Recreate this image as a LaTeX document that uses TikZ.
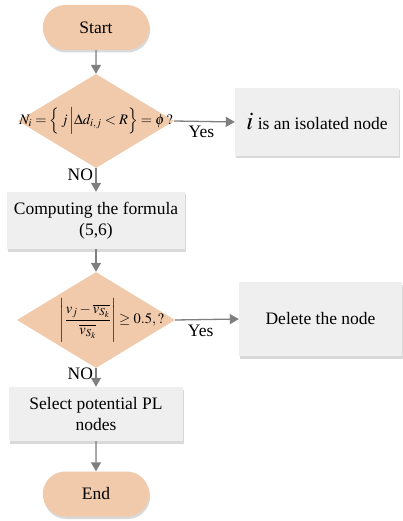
\documentclass[tikz,border=0pt]{standalone}
\usepackage{amsmath}
\usepackage{mathptmx}
\usepackage{fontspec}
\setmainfont{Liberation Serif}
\usetikzlibrary{arrows.meta,shapes.geometric,shapes.misc,shadows}
\definecolor{termfill}{HTML}{F0CAAA}
\definecolor{stepfill}{HTML}{EFEFEF}
\definecolor{linegray}{HTML}{7F7F7F}
\tikzset{
  term/.style={rounded rectangle, fill=termfill, minimum width=113pt, minimum height=45pt,
    drop shadow={shadow xshift=1pt, shadow yshift=-2.5pt, opacity=0.3}},
  stepbox/.style={rectangle, fill=stepfill, align=center, inner sep=0pt,
    drop shadow={shadow xshift=1pt, shadow yshift=-2.5pt, opacity=0.3}},
  decide/.style={diamond, fill=termfill, inner sep=0pt},
  flow/.style={draw=linegray, line width=1.3pt, -{Triangle[length=9pt,width=10pt]}, fill=linegray}
}
\begin{document}
\begin{tikzpicture}[x=1pt, y=-1pt, font=\fontsize{17.5}{21}\selectfont]
\useasboundingbox (0,0) rectangle (402,521);
\node[term] (start) at (96,27.5) {Start};
\node[decide, minimum width=156pt, minimum height=94pt,
  label={[font=\fontsize{14.5}{17}\selectfont]center:$N_i=\Big\{\,j\,\Big|\Delta d_{i,j}<R\Big\}=\phi\,?$}] (test1) at (96,121) {};
\node[stepbox, minimum width=164pt, minimum height=68pt] (isolated) at (317,122) {{\fontsize{25}{25}\selectfont$i$} is an isolated node};
\node[stepbox, minimum width=178pt, minimum height=57pt] (formula) at (96,220.5) {Computing the formula\\(5,6)};
\node[decide, minimum width=158pt, minimum height=96pt,
  label={[font=\fontsize{14.5}{17}\selectfont, xshift=16pt]center:$\Bigg|\dfrac{v_j-\overline{v_{S_k}}}{\rule{0pt}{12pt}\overline{v_{S_k}}}\Bigg|\geq 0.5,?$}] (test2) at (96,320) {};
\node[stepbox, minimum width=163pt, minimum height=74pt] (delete) at (320.5,319) {Delete the node};
\node[stepbox, minimum width=174pt, minimum height=54pt] (select) at (96,414) {Select potential PL\\nodes};
\node[term] (end) at (96,494) {End};
\draw[flow] (start) -- (test1);
\draw[flow] (test1.east) -- node[below=1pt, pos=0.45] {Yes} (isolated.west);
\draw[flow] (test1.south) -- node[left=-1pt, pos=0.3] {NO} (formula.north);
\draw[flow] (formula) -- (test2);
\draw[flow] (test2.east) -- node[below=1pt, pos=0.4] {Yes} (delete.west);
\draw[flow] (test2.south) -- node[left=-1pt, pos=0.3] {NO} (select.north);
\draw[flow] (select) -- (end);
\end{tikzpicture}
\end{document}
